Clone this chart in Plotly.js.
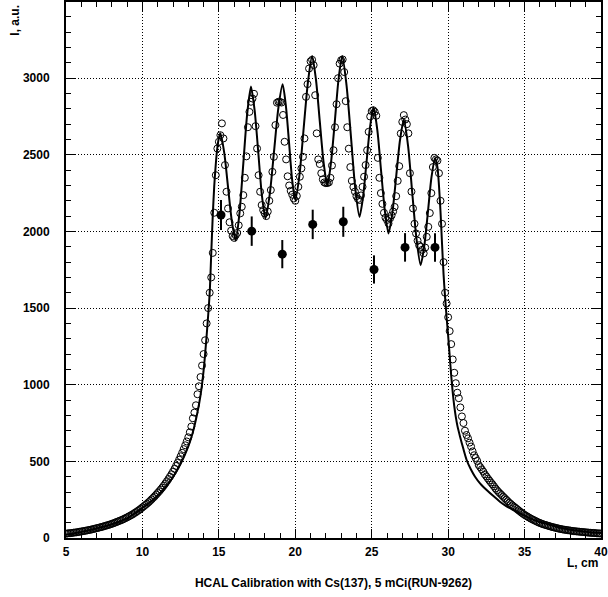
<!DOCTYPE html>
<html>
<head>
<meta charset="utf-8">
<script src="https://cdn.plot.ly/plotly-3.0.1.min.js"></script>
<style>
html,body{margin:0;padding:0;background:#fff;}
#chart{width:608px;height:597px;}
</style>
</head>
<body>
<div id="chart"></div>
<script>
// Measured scan (open circles): position L (cm) and intensity I (a.u.)
const scanL = [
5.0,5.1,5.2,5.3,5.4,5.5,5.6,5.7,5.8,5.9,
6.0,6.1,6.2,6.3,6.4,6.5,6.6,6.7,6.8,6.9,
7.0,7.1,7.2,7.3,7.4,7.5,7.6,7.7,7.8,7.9,
8.0,8.1,8.2,8.3,8.4,8.5,8.6,8.7,8.8,8.9,
9.0,9.1,9.2,9.3,9.4,9.5,9.6,9.7,9.8,9.9,
10.0,10.1,10.2,10.3,10.4,10.5,10.6,10.7,10.8,10.9,
11.0,11.1,11.2,11.3,11.4,11.5,11.6,11.7,11.8,11.9,
12.0,12.1,12.2,12.3,12.4,12.5,12.6,12.7,12.8,12.9,
13.0,13.1,13.2,13.3,13.4,13.5,13.6,13.7,13.8,13.9,
14.0,14.1,14.2,14.3,14.4,14.5,14.6,14.7,14.8,14.9,
15.0,15.1,15.2,15.3,15.4,15.5,15.6,15.7,15.8,15.9,
16.0,16.1,16.2,16.3,16.4,16.5,16.6,16.7,16.8,16.9,
17.0,17.1,17.2,17.3,17.4,17.5,17.6,17.7,17.8,17.9,
18.0,18.1,18.2,18.3,18.4,18.5,18.6,18.7,18.8,18.9,
19.0,19.1,19.2,19.3,19.4,19.5,19.6,19.7,19.8,19.9,
20.0,20.1,20.2,20.3,20.4,20.5,20.6,20.7,20.8,20.9,
21.0,21.1,21.2,21.3,21.4,21.5,21.6,21.7,21.8,21.9,
22.0,22.1,22.2,22.3,22.4,22.5,22.6,22.7,22.8,22.9,
23.0,23.1,23.2,23.3,23.4,23.5,23.6,23.7,23.8,23.9,
24.0,24.1,24.2,24.3,24.4,24.5,24.6,24.7,24.8,24.9,
25.0,25.1,25.2,25.3,25.4,25.5,25.6,25.7,25.8,25.9,
26.0,26.1,26.2,26.3,26.4,26.5,26.6,26.7,26.8,26.9,
27.0,27.1,27.2,27.3,27.4,27.5,27.6,27.7,27.8,27.9,
28.0,28.1,28.2,28.3,28.4,28.5,28.6,28.7,28.8,28.9,
29.0,29.1,29.2,29.3,29.4,29.5,29.6,29.7,29.8,29.9,
30.0,30.1,30.2,30.3,30.4,30.5,30.6,30.7,30.8,30.9,
31.0,31.1,31.2,31.3,31.4,31.5,31.6,31.7,31.8,31.9,
32.0,32.1,32.2,32.3,32.4,32.5,32.6,32.7,32.8,32.9,
33.0,33.1,33.2,33.3,33.4,33.5,33.6,33.7,33.8,33.9,
34.0,34.1,34.2,34.3,34.4,34.5,34.6,34.7,34.8,34.9,
35.0,35.1,35.2,35.3,35.4,35.5,35.6,35.7,35.8,35.9,
36.0,36.1,36.2,36.3,36.4,36.5,36.6,36.7,36.8,36.9,
37.0,37.1,37.2,37.3,37.4,37.5,37.6,37.7,37.8,37.9,
38.0,38.1,38.2,38.3,38.4,38.5,38.6,38.7,38.8,38.9,
39.0,39.1,39.2,39.3,39.4,39.5,39.6,39.7,39.8,39.9,
40.0
];
const scanI = [
28,30,31,32,33,35,36,37,39,41,
43,44,46,48,50,52,54,56,59,61,
64,66,69,71,74,77,80,83,86,89,
93,96,100,104,108,112,116,120,125,130,
135,140,146,151,157,164,170,177,184,192,
200,208,216,224,233,242,252,262,272,283,
294,305,317,329,342,356,370,385,400,416,
433,451,470,490,511,533,556,580,605,630,
657,690,727,781,818,866,938,990,1050,1125,
1200,1290,1400,1500,1600,1700,1860,2122,2367,2541,
2585,2628,2705,2607,2433,2259,2150,2060,2005,1970,
1958,1975,1990,2040,2118,2161,2237,2350,2490,2680,
2780,2846,2867,2898,2687,2541,2367,2259,2172,2139,
2118,2100,2130,2200,2270,2389,2487,2694,2840,2846,
2845,2841,2760,2585,2470,2360,2300,2265,2240,2215,
2200,2232,2291,2357,2411,2487,2607,2878,2961,3063,
3110,3120,3085,2889,2640,2470,2440,2380,2340,2320,
2315,2316,2320,2350,2430,2530,2680,2830,3000,3095,
3117,3122,3040,2850,2680,2540,2420,2330,2290,2260,
2230,2212,2205,2235,2291,2357,2433,2530,2650,2750,
2785,2791,2780,2755,2480,2350,2250,2180,2122,2090,
2075,2052,2085,2105,2130,2160,2230,2330,2426,2639,
2715,2759,2730,2700,2640,2380,2260,2150,2050,1987,
1940,1910,1900,1880,1857,1895,1965,2030,2120,2250,
2420,2480,2470,2462,2380,2200,2050,1800,1600,1530,
1440,1350,1265,1165,1078,1010,948,912,852,793,
750,700,672,650,622,597,565,540,522,503,
476,462,448,433,415,402,388,375,362,350,
337,323,311,300,290,280,270,260,250,240,
230,222,213,205,197,189,181,173,165,158,
151,145,139,133,127,122,117,112,107,102,
98,94,90,87,84,81,78,75,72,70,
67,65,62,60,58,56,54,53,51,50,
48,47,45,44,43,42,41,40,39,38,
37,36,35,34,33,33,32,31,30,30,
29
];

// Fitted curve (solid line)
const fitL = [
5.0,5.5,6.0,6.5,7.0,7.5,8.0,8.5,9.0,9.5,10.0,10.5,11.0,11.5,12.0,12.5,13.0,13.3,13.6,13.8,
14.0,14.2,14.4,14.5,14.6,14.7,14.8,14.9,15.0,15.1,
15.35,15.6,15.85,16.1,16.35,16.6,16.85,17.1,
17.34,17.58,17.81,18.05,18.33,18.61,18.89,19.17,
19.38,19.59,19.79,20.0,20.28,20.55,20.83,21.1,
21.35,21.6,21.85,22.1,22.34,22.59,22.83,23.07,
23.35,23.64,23.92,24.2,24.43,24.66,24.89,25.12,
25.37,25.61,25.86,26.1,26.35,26.6,26.85,27.1,
27.38,27.65,27.93,28.2,28.44,28.68,28.91,29.15,
29.3,29.4,29.5,29.6,29.7,29.8,29.9,30.0,30.1,30.2,30.3,30.4,30.5,
30.6,30.78,31.0,31.21,31.5,31.76,32.1,32.52,33.0,33.39,33.8,34.26,34.7,35.14,
35.6,36.0,36.5,36.88,37.5,38.0,38.5,39.06,39.5,40.0
];
const fitI = [
22,30,40,50,62,75,90,108,130,160,196,233,277,330,398,484,598,690,820,930,
1090,1320,1600,1850,2100,2300,2440,2545,2610,2640,
2514,2290,2066,1940,2121,2443,2764,2945,
2790,2515,2240,2085,2243,2522,2803,2960,
2824,2582,2341,2205,2374,2675,2976,3145,
2993,2722,2452,2300,2452,2722,2993,3145,
2956,2620,2284,2095,2223,2452,2680,2808,
2660,2398,2135,1987,2120,2358,2595,2728,
2557,2254,1951,1780,1906,2130,2354,2480,
2420,2300,2130,1920,1720,1570,1440,1320,1190,1060,950,860,790,
735,661,580,509,445,400,355,313,270,237,208,183,160,139,
118,103,90,80,63,54,47,40,36,32
];

// Reference points (filled circles) with errors
const refL = [15.14, 17.15, 19.15, 21.14, 23.14, 25.15, 27.18, 29.14];
const refI = [2107, 2002, 1852, 2046, 2063, 1752, 1896, 1896];
const refErr = [98, 96, 92, 96, 98, 92, 93, 93];

const fontBase = {family: 'Liberation Sans, Arial, Helvetica, sans-serif', size: 12, color: '#000', weight: 'bold'};

const traces = [
  {
    x: fitL, y: fitI, type: 'scatter', mode: 'lines',
    line: {color: '#000', width: 2, shape: 'spline', smoothing: 0.7},
    hoverinfo: 'skip'
  },
  {
    x: scanL, y: scanI, type: 'scatter', mode: 'markers',
    marker: {symbol: 'circle-open', size: 7, color: '#000', line: {width: 1, color: '#000'}},
    hoverinfo: 'skip'
  },
  {
    x: refL, y: refI, type: 'scatter', mode: 'markers',
    marker: {symbol: 'circle', size: 9, color: '#000'},
    error_y: {type: 'data', array: refErr, visible: true, color: '#000', thickness: 2, width: 0},
    hoverinfo: 'skip'
  }
];

const axisCommon = {
  ticks: 'inside', tickcolor: '#000', tickwidth: 1,
  showline: true, linecolor: '#000', linewidth: 2, mirror: 'ticks',
  showgrid: true, gridcolor: '#000', griddash: '1px,2px', gridwidth: 1,
  zeroline: false, tickfont: fontBase
};

const layout = {
  width: 608, height: 597,
  margin: {l: 66, r: 7, t: 2, b: 59, pad: 0},
  paper_bgcolor: '#fff', plot_bgcolor: '#fff',
  showlegend: false,
  font: fontBase,
  title: {text: 'HCAL Calibration with Cs(137), 5 mCi(RUN-9262)', font: fontBase,
          x: 0.5, xref: 'paper', xanchor: 'center', y: 0.0235, yref: 'container', yanchor: 'middle'},
  xaxis: Object.assign({}, axisCommon, {
    range: [5, 40], tick0: 5, dtick: 5, ticklen: 9,
    minor: {dtick: 1, ticklen: 5, ticks: 'inside', tickcolor: '#000', showgrid: false},
    ticklabelstandoff: 2
  }),
  yaxis: Object.assign({}, axisCommon, {
    range: [0, 3497], tick0: 0, dtick: 500, ticklen: 9,
    minor: {dtick: 100, ticklen: 5, ticks: 'inside', tickcolor: '#000', showgrid: false},
    ticklabelstandoff: 12
  }),
  annotations: [
    {text: 'I, a.u.', xref: 'paper', yref: 'paper', x: -0.097, y: 0.998, xanchor: 'center', yanchor: 'top',
     textangle: -90, showarrow: false, font: fontBase},
    {text: 'L, cm', xref: 'paper', yref: 'paper', x: 0.998, y: -0.0466, xanchor: 'right', yanchor: 'middle',
     showarrow: false, font: fontBase}
  ]
};

Plotly.newPlot('chart', traces, layout, {staticPlot: true, displayModeBar: false});
</script>
</body>
</html>
